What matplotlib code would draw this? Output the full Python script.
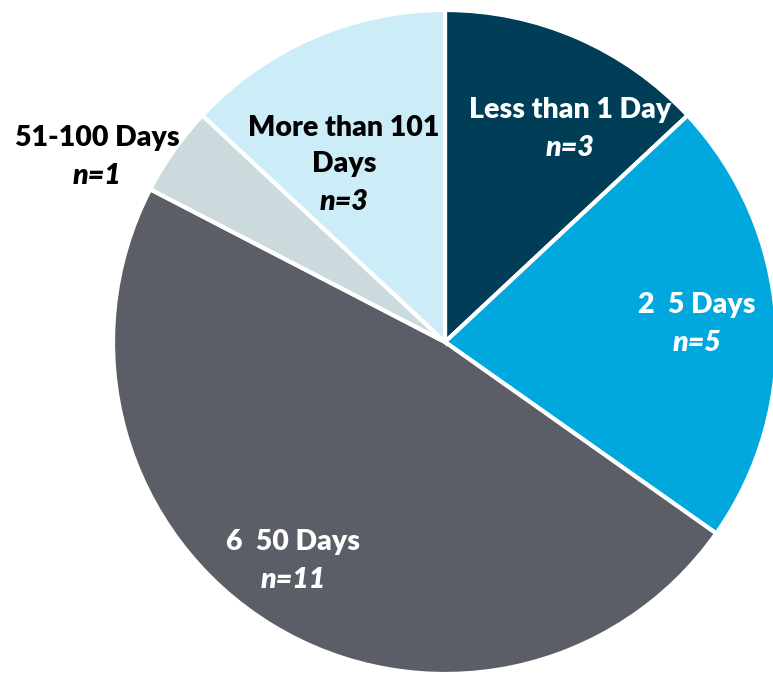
import matplotlib
matplotlib.use("Agg")
import matplotlib.pyplot as plt

categories = ["Less than 1 Day", "2  5 Days", "6  50 Days", "51-100 Days", "More than 101\nDays"]
counts = [3, 5, 11, 1, 3]
colors = ["#003E57", "#00A8DE", "#5B5E66", "#CCD9DD", "#CCECF7"]
text_colors = ["white", "white", "white", "black", "black"]
# label anchor positions in pixels (x, y of the name line), layout only
label_pos = [(570, 110), (697, 305), (293, 542), (97, 138), (344, 128)]

W, H = 773, 677
fig = plt.figure(figsize=(W / 100, H / 100), dpi=100)
ax = fig.add_axes([0, 0, 1, 1])
ax.set_xlim(0, W)
ax.set_ylim(0, H)
ax.set_aspect("equal")
ax.axis("off")

ax.pie(counts, colors=colors, startangle=90, counterclock=False,
       center=(445, H - 342), radius=332,
       wedgeprops=dict(edgecolor="white", linewidth=3))
ax.set_xlim(0, W)
ax.set_ylim(0, H)

fam = ["Lato", "DejaVu Sans"]
for cat, n, (x, y), tc in zip(categories, counts, label_pos, text_colors):
    lines = cat.split("\n")
    for i, ln in enumerate(lines):
        ax.text(x, H - (y + 36 * i), ln, ha="center", va="center",
                fontsize=20.5, fontweight="heavy", color=tc, family=fam)
    ax.text(x, H - (y + 36 * len(lines) + 2), f"n={n}", ha="center", va="center",
            fontsize=20.5, fontweight="heavy", fontstyle="italic", color=tc, family=fam)

fig.savefig("out.png", dpi=100)
